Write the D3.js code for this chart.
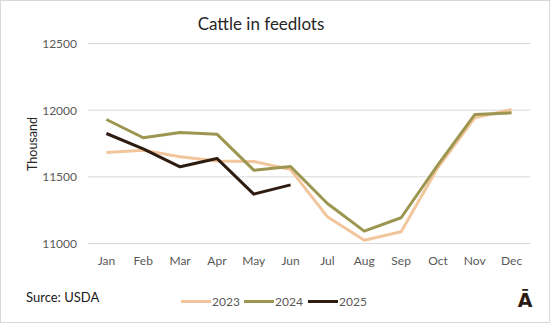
<!DOCTYPE html>
<html><head><meta charset="utf-8">
<script src="https://cdn.jsdelivr.net/npm/d3@7"></script>
<style>body{margin:0;background:#fff}svg{display:block}</style>
</head><body>
<svg id="c" width="550" height="323"></svg>
<script>
const months = ["Jan","Feb","Mar","Apr","May","Jun","Jul","Aug","Sep","Oct","Nov","Dec"];
const years = ["2023","2024","2025"];
const v2023 = [11683,11700,11650,11618,11615,11555,11200,11025,11088,11570,11942,12005];
const v2024 = [11930,11793,11833,11820,11550,11578,11300,11093,11193,11590,11967,11980];
const v2025 = [11825,11710,11575,11638,11370,11440];
const yTicks = [11000,11500,12000,12500];
const colors = ["#f2c69c","#9c9650","#2f1c10"];
const seriesVals = [v2023, v2024, v2025];

const svg = d3.select("#c");
const font = "Lato, 'Open Sans', sans-serif";
svg.append("rect").attr("x",0.5).attr("y",0.5).attr("width",549).attr("height",322)
  .attr("fill","#fff").attr("stroke","#d9d9d9");

const x = d3.scaleBand().domain(months).range([88,530]);
const y = d3.scaleLinear().domain([11000,12500]).range([243.5,43.5]);

// gridlines
svg.append("g").selectAll("line").data(yTicks).join("line")
  .attr("x1",88).attr("x2",530).attr("y1",d=>y(d)).attr("y2",d=>y(d))
  .attr("stroke","#d9d9d9").attr("stroke-width",1);

// y axis labels
const yAxis = d3.axisLeft(y).tickValues(yTicks).tickSize(0).tickPadding(0).tickFormat(d3.format("d"));
const gy = svg.append("g").attr("transform","translate(77,0)").call(yAxis);
gy.select(".domain").remove();
gy.selectAll("text").attr("font-family",font).attr("font-size",12).attr("fill","#595959");

// x axis labels
const xAxis = d3.axisBottom(x).tickSize(0).tickPadding(0);
const gx = svg.append("g").attr("transform","translate(0,256)").call(xAxis);
gx.select(".domain").remove();
gx.selectAll("text").attr("font-family",font).attr("font-size",12).attr("fill","#595959");

// lines
const line = d3.line().x((d,i)=>x(months[i])+x.bandwidth()/2).y(d=>y(d));
seriesVals.forEach((vals,k)=>{
  svg.append("path").datum(vals).attr("d",line).attr("fill","none")
    .attr("stroke",colors[k]).attr("stroke-width",3).attr("stroke-linejoin","round");
});

// title
svg.append("text").attr("x",261).attr("y",30).attr("text-anchor","middle")
  .attr("font-family",font).attr("font-size",17).attr("fill","#262626").text("Cattle in feedlots");

// y axis title
svg.append("text").attr("transform","translate(37,144) rotate(-90)").attr("text-anchor","middle")
  .attr("font-family",font).attr("font-size",12.5).attr("fill","#262626").text("Thousand");

// source
svg.append("text").attr("x",26).attr("y",302).attr("font-family",font).attr("font-size",13)
  .attr("fill","#1a1a1a").text("Surce: USDA");

// legend
const legX = [181,244,308];
years.forEach((yr,k)=>{
  svg.append("line").attr("x1",legX[k]).attr("x2",legX[k]+30).attr("y1",301.5).attr("y2",301.5)
    .attr("stroke",colors[k]).attr("stroke-width",3);
  svg.append("text").attr("x",legX[k]+31).attr("y",306).attr("font-family",font).attr("font-size",12)
    .attr("fill","#595959").text(yr);
});

// logo
svg.append("text").attr("x",525).attr("y",307).attr("text-anchor","middle")
  .attr("font-family","'DejaVu Sans', sans-serif").attr("font-weight","bold").attr("font-size",19)
  .attr("fill","#2b1a10").text("Ā");
</script>
</body></html>
